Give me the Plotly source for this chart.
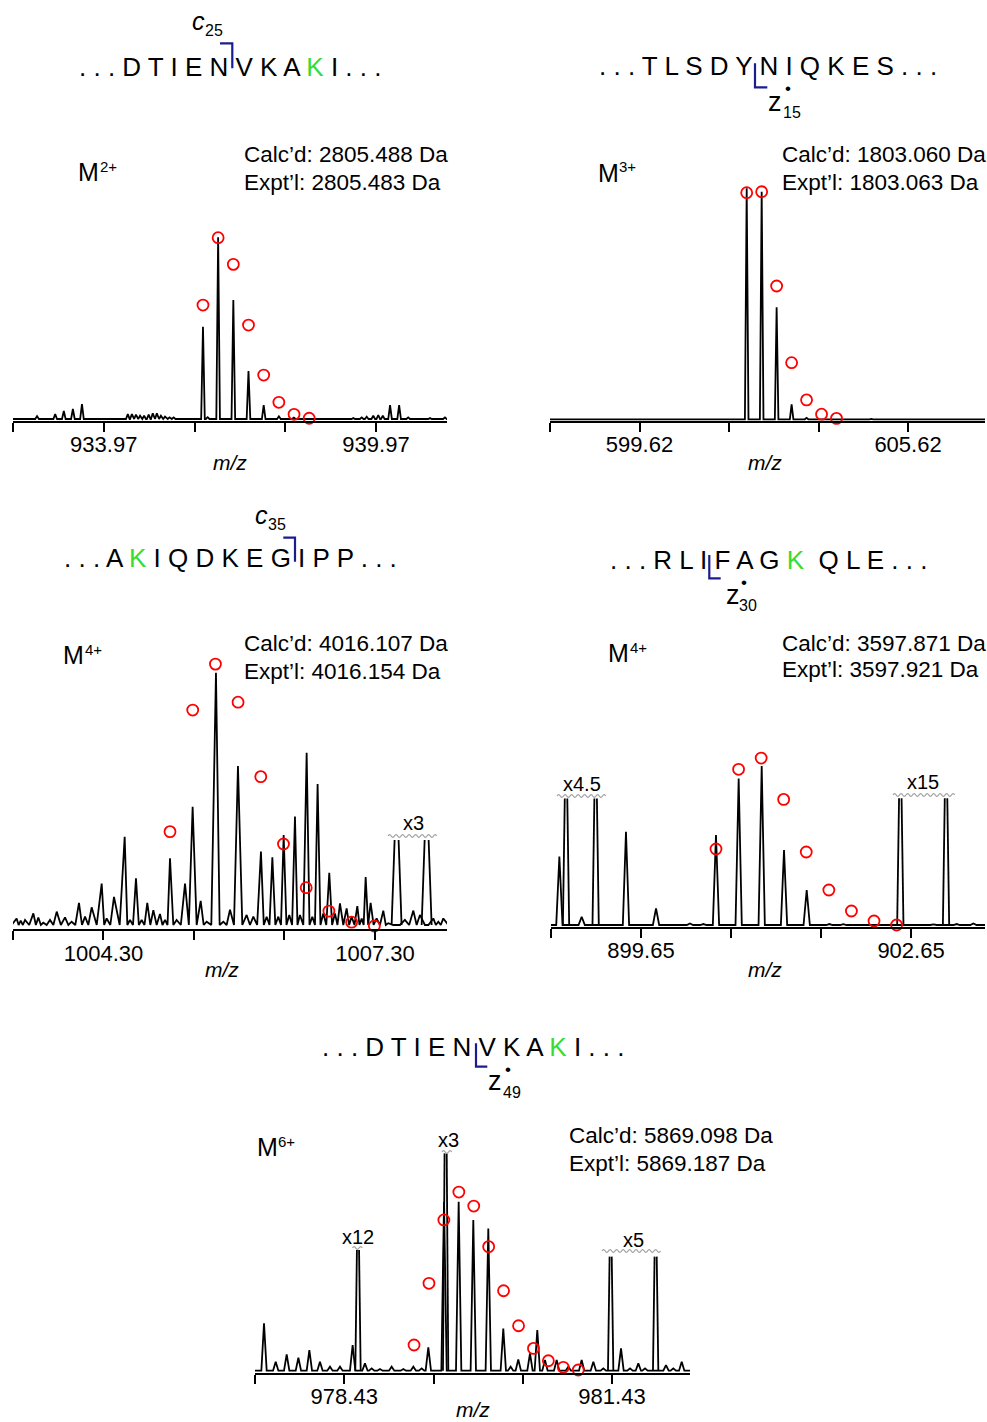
import plotly.graph_objects as go

W, H = 987, 1422
FONT = "Liberation Sans, Arial, Helvetica, sans-serif"
GREEN = "#33dd33"
NAVY = "#1c1c8e"
RED = "#ff0000"

# ------------------------------------------------------------------ data
# Panel 1  (c25, M2+)
p1_seq = ["D", "T", "I", "E", "N", "V", "K", "A", "K", "I"]
p1_green = [8]
p1_frag = ("c", "25")
p1_charge = "2+"
p1_calc = "Calc\u2019d: 2805.488 Da"
p1_expt = "Expt\u2019l: 2805.483 Da"
p1_ticks = [931.97, 933.97, 935.97, 937.97, 939.97]
p1_ticktext = ["", "933.97", "", "", "939.97"]
p1_mz = [932.50, 932.90, 933.09, 933.29, 933.49, 934.50, 934.59, 934.68, 934.77, 934.86,
         934.96, 935.05, 935.14, 935.23, 935.32, 935.42, 935.51, 936.157, 936.26, 936.491,
         936.826, 937.160, 937.495, 937.830, 938.160, 939.470, 939.655, 939.765, 939.910,
         940.020, 940.120, 940.280, 940.480, 940.680, 941.160, 941.490]
p1_int = [1.6, 2.7, 4.4, 5.5, 8.2, 2.7, 2.7, 2.4, 1.8, 1.8,
          2.4, 3.1, 3.1, 1.8, 1.3, 0.9, 0.9, 50.8, 1.0, 100,
          65.5, 26.4, 7.7, 1.5, 0.8, 0.5, 0.9, 1.3, 1.8,
          2.2, 1.8, 7.7, 7.7, 0.9, 0.5, 0.9]
p1_clip_mz = []
p1_clip_int = []
p1_iso_mz = [936.157, 936.491, 936.826, 937.160, 937.495, 937.829, 938.164, 938.498]
p1_iso_int = [62.7, 99.8, 85.1, 51.7, 24.2, 9.2, 2.6, 0.4]
p1_scale_labels = []

# Panel 2  (z15, M3+)
p2_seq = ["T", "L", "S", "D", "Y", "N", "I", "Q", "K", "E", "S"]
p2_green = []
p2_frag = ("z", "15")
p2_charge = "3+"
p2_calc = "Calc\u2019d: 1803.060 Da"
p2_expt = "Expt\u2019l: 1803.063 Da"
p2_ticks = [597.62, 599.62, 601.62, 603.62, 605.62]
p2_ticktext = ["", "599.62", "", "", "605.62"]
p2_mz = [598.90, 600.20, 602.015, 602.350, 602.684, 603.019, 603.353, 604.80, 606.10]
p2_int = [0.3, 0.2, 100, 98.5, 48.5, 6.5, 0.6, 0.2, 0.3]
p2_clip_mz = []
p2_clip_int = []
p2_iso_mz = [602.015, 602.350, 602.684, 603.019, 603.353, 603.688, 604.022]
p2_iso_int = [98.1, 98.5, 57.7, 24.5, 8.4, 2.2, 0.4]
p2_scale_labels = []

# Panel 3  (c35, M4+)
p3_seq = ["A", "K", "I", "Q", "D", "K", "E", "G", "I", "P", "P"]
p3_green = [1]
p3_frag = ("c", "35")
p3_charge = "4+"
p3_calc = "Calc\u2019d: 4016.107 Da"
p3_expt = "Expt\u2019l: 4016.154 Da"
p3_ticks = [1003.30, 1004.30, 1005.30, 1006.30, 1007.30]
p3_ticktext = ["", "1004.30", "", "", "1007.30"]
p3_mz = [1003.340, 1003.385, 1003.433, 1003.525, 1003.580, 1003.635, 1003.709, 1003.783,
         1003.875, 1003.948, 1004.029, 1004.096, 1004.169, 1004.280, 1004.335, 1004.416,
         1004.534, 1004.593, 1004.659, 1004.722, 1004.784, 1004.851, 1004.924, 1004.980,
         1005.035, 1005.108, 1005.201, 1005.285, 1005.374, 1005.440, 1005.543, 1005.624,
         1005.698, 1005.786, 1005.882, 1005.956, 1006.040, 1006.103, 1006.166, 1006.232,
         1006.291, 1006.353, 1006.416, 1006.471, 1006.545, 1006.608, 1006.666, 1006.729,
         1006.795, 1006.858, 1006.913, 1006.987, 1007.042, 1007.105, 1007.153, 1007.197,
         1007.252, 1007.318, 1007.392, 1007.447, 1007.631, 1007.724, 1007.797, 1007.945,
         1008.000, 1008.055]
p3_int = [2.6, 1.7, 2.0, 4.6, 3.0, 0.9, 2.0, 5.3,
          3.0, 1.3, 8.8, 3.3, 7.0, 16.4, 2.6, 11.1,
          35.0, 2.0, 18.5, 2.0, 8.8, 5.9, 4.4, 2.0,
          26.4, 2.0, 16.4, 46.9, 9.6, 1.3, 100, 1.3,
          6.1, 63.0, 4.0, 3.3, 29.1, 3.3, 26.8, 3.3,
          35.7, 4.0, 43.0, 4.0, 68.3, 3.3, 55.9, 4.6,
          20.7, 4.6, 8.6, 6.6, 3.3, 7.5, 2.6, 19.0,
          8.8, 2.6, 5.7, 0.7, 2.0, 5.7, 4.0, 2.6,
          1.3, 2.6]
p3_clip_mz = [1007.539, 1007.871]
p3_clip_int = [33.7, 33.7]
p3_iso_mz = [1005.035, 1005.286, 1005.537, 1005.787, 1006.038, 1006.289, 1006.540,
             1006.791, 1007.042, 1007.293]
p3_iso_int = [37.0, 85.2, 103.4, 88.3, 58.8, 32.1, 14.8, 5.5, 1.1, -0.4]
p3_scale_labels = ["x3"]

# Panel 4  (z30, M4+)
p4_seq = ["R", "L", "I", "F", "A", "G", "K", "\u00a0Q", "L", "E"]
p4_green = [6]
p4_frag = ("z", "30")
p4_charge = "4+"
p4_calc = "Calc\u2019d: 3597.871 Da"
p4_expt = "Expt\u2019l: 3597.921 Da"
p4_ticks = [898.65, 899.65, 900.65, 901.65, 902.65]
p4_ticktext = ["", "899.65", "", "", "902.65"]
p4_mz = [898.743, 898.991, 899.343, 899.483, 899.817, 900.194, 900.343, 900.483, 900.735,
         900.991, 901.239, 901.491, 901.743, 901.898, 902.900, 903.157, 903.343]
p4_int = [43.0, 5.2, 0.4, 58.7, 10.5, 1.0, 0.6, 56.6, 92.2,
          100, 47.2, 22.0, 0.6, 0.5, 0.4, 0.6, 1.0]
p4_clip_mz = [898.817, 899.146, 902.531, 903.039]
p4_clip_int = [79.5, 79.5, 79.7, 79.7]
p4_iso_mz = [900.483, 900.734, 900.985, 901.235, 901.486, 901.737, 901.988, 902.239, 902.490]
p4_iso_int = [47.8, 97.9, 105.0, 79.0, 45.9, 22.0, 8.8, 2.5, 0.0]
p4_scale_labels = ["x4.5", "x15"]

# Panel 5  (z49, M6+)
p5_seq = ["D", "T", "I", "E", "N", "V", "K", "A", "K", "I"]
p5_green = [8]
p5_frag = ("z", "49")
p5_charge = "6+"
p5_calc = "Calc\u2019d: 5869.098 Da"
p5_expt = "Expt\u2019l: 5869.187 Da"
p5_ticks = [977.43, 978.43, 979.43, 980.43, 981.43]
p5_ticktext = ["", "978.43", "", "", "981.43"]
p5_mz = [977.531, 977.662, 977.785, 977.916, 978.039, 978.158, 978.270, 978.382, 978.524,
         978.662, 978.737, 978.830, 978.961, 979.092, 979.204, 979.297, 979.372, 979.548,
         979.712, 979.876, 980.044, 980.212, 980.294, 980.380, 980.511, 980.593, 980.679,
         980.810, 980.941, 981.090, 981.221, 981.333, 981.531, 981.632, 981.725, 981.800,
         982.035, 982.117, 982.211]
p5_int = [28.0, 5.3, 9.7, 7.7, 12.2, 5.3, 2.4, 2.4, 15.2,
          4.3, 1.4, 1.0, 2.4, 1.0, 2.4, 1.4, 13.8, 100,
          100, 89.2, 84.2, 25.0, 2.4, 6.7, 10.3, 24.1, 6.3,
          6.3, 2.4, 6.3, 5.3, 1.4, 13.2, 1.4, 4.3, 1.4,
          3.3, 1.4, 5.3]
p5_clip_mz = [978.584, 979.566, 981.415, 981.919]
p5_clip_int = [71.4, 128.6, 67.5, 67.5]
p5_iso_mz = [979.212, 979.379, 979.546, 979.714, 979.881, 980.048, 980.215, 980.383,
             980.550, 980.717, 980.884, 981.052]
p5_iso_int = [15.2, 51.7, 89.2, 105.7, 97.4, 73.4, 47.3, 26.6, 13.2, 5.9, 2.0, 0.4]
p5_scale_labels = ["x12", "x3", "x5"]

# ------------------------------------------------------------------ layout (pixels)
panels = [
    dict(seq=p1_seq, green=p1_green, frag=p1_frag, charge=p1_charge, calc=p1_calc, expt=p1_expt,
         ticks=p1_ticks, ticktext=p1_ticktext, mz=p1_mz, it=p1_int, cmz=p1_clip_mz, cit=p1_clip_int,
         imz=p1_iso_mz, iit=p1_iso_int, scl=p1_scale_labels,
         x0=13, x1=447, axis=421, base=419, full=237.3, top=215, xr=[931.97, 941.535], w=0.04,
         seq_xy=(230.5, 67), frag_xy=(190, 21), sub_xy=(203, 31),
         bracket=[(220, 43.3), (232.3, 43.3), (232.3, 68.3)],
         dot=None, M_xy=(76, 172), sup_xy=(97.5, 166), calc_xy=(242, 155), expt_xy=(242, 182),
         mz_xy=(230, 462), scl_pos=[]),
    dict(seq=p2_seq, green=p2_green, frag=p2_frag, charge=p2_charge, calc=p2_calc, expt=p2_expt,
         ticks=p2_ticks, ticktext=p2_ticktext, mz=p2_mz, it=p2_int, cmz=p2_clip_mz, cit=p2_clip_int,
         imz=p2_iso_mz, iit=p2_iso_int, scl=p2_scale_labels,
         x0=550, x1=985, axis=421, base=419.3, full=188.3, top=170, xr=[597.62, 607.34], w=0.04,
         seq_xy=(767.5, 66), frag_xy=(766, 102), sub_xy=(781, 113),
         bracket=[(755, 63.3), (755, 87.3), (767.3, 87.3)],
         dot=(787.5, 89), M_xy=(595.5, 173), sup_xy=(617, 167), calc_xy=(780, 155), expt_xy=(780, 182),
         mz_xy=(765, 462), scl_pos=[]),
    dict(seq=p3_seq, green=p3_green, frag=p3_frag, charge=p3_charge, calc=p3_calc, expt=p3_expt,
         ticks=p3_ticks, ticktext=p3_ticktext, mz=p3_mz, it=p3_int, cmz=p3_clip_mz, cit=p3_clip_int,
         imz=p3_iso_mz, iit=p3_iso_int, scl=p3_scale_labels,
         x0=13, x1=447, axis=929.3, base=925, full=672.7, top=650, xr=[1003.30, 1008.096], w=0.055,
         seq_xy=(230.5, 558), frag_xy=(253, 515), sub_xy=(266, 524),
         bracket=[(283.3, 537.7), (295, 537.7), (295, 561.7)],
         dot=None, M_xy=(60.5, 655), sup_xy=(82.5, 649.5), calc_xy=(242, 643), expt_xy=(242, 671),
         mz_xy=(222, 969), scl_pos=[(413, 823, 388, 438, 836)]),
    dict(seq=p4_seq, green=p4_green, frag=p4_frag, charge=p4_charge, calc=p4_calc, expt=p4_expt,
         ticks=p4_ticks, ticktext=p4_ticktext, mz=p4_mz, it=p4_int, cmz=p4_clip_mz, cit=p4_clip_int,
         imz=p4_iso_mz, iit=p4_iso_int, scl=p4_scale_labels,
         x0=551, x1=985, axis=926.7, base=925, full=766, top=740, xr=[898.65, 903.472], w=0.035,
         seq_xy=(768, 560), frag_xy=(724, 595), sub_xy=(737, 605),
         bracket=[(709.3, 555), (709.3, 578.3), (720.7, 578.3)],
         dot=(744, 582), M_xy=(605.5, 653), sup_xy=(627.5, 647.5), calc_xy=(780, 643), expt_xy=(780, 670),
         mz_xy=(765, 969), scl_pos=[(582, 784, 557, 606, 796), (923, 782, 893, 955, 795)]),
    dict(seq=p5_seq, green=p5_green, frag=p5_frag, charge=p5_charge, calc=p5_calc, expt=p5_expt,
         ticks=p5_ticks, ticktext=p5_ticktext, mz=p5_mz, it=p5_int, cmz=p5_clip_mz, cit=p5_clip_int,
         imz=p5_iso_mz, iit=p5_iso_int, scl=p5_scale_labels,
         x0=255, x1=690, axis=1372.7, base=1370.7, full=1201.7, top=1130, xr=[977.43, 982.304], w=0.03,
         seq_xy=(473.5, 1047), frag_xy=(486, 1081), sub_xy=(501, 1092),
         bracket=[(476, 1043.3), (476, 1066.7), (487.3, 1066.7)],
         dot=(508, 1069), M_xy=(254.5, 1147), sup_xy=(276, 1141.5), calc_xy=(567, 1135), expt_xy=(567, 1163),
         mz_xy=(473, 1409),
         scl_pos=[(358, 1237, 352.5, 364, 1248), (448, 1140, 442, 453.5, 1152), (633, 1240, 602, 663, 1251)]),
]


def pxx(x):
    return x / W


def pxy(y):
    return 1 - y / H


def spectrum_line(mz, it, w, xr):
    pts = sorted(zip(mz, it))
    xs, ys = [xr[0]], [0]
    n = len(pts)
    for i, (m, h) in enumerate(pts):
        left = m - w
        right = m + w
        if i > 0:
            left = max(left, (m + pts[i - 1][0]) / 2)
        if i < n - 1:
            right = min(right, (m + pts[i + 1][0]) / 2)
        xs += [left, m, right]
        ys += [0, h, 0]
    xs.append(xr[1])
    ys.append(0)
    return xs, ys


def clipped_lines(cmz, cit, w):
    xs, ys = [], []
    g = w * 0.4
    for m, h in zip(cmz, cit):
        xs += [m - w, m - g, None, m + g, m + w, None]
        ys += [0, h, None, h, 0, None]
    return xs, ys


def wave_path(x0, x1, y, period=6.5, amp=1.4):
    d = "M %.5f %.5f" % (pxx(x0), pxy(y))
    x = x0
    k = 0
    half = period / 2
    while x + half <= x1 + 0.01:
        cx = x + half / 2
        cy = y - 2 * amp if k % 2 == 0 else y + 2 * amp
        d += " Q %.5f %.5f %.5f %.5f" % (pxx(cx), pxy(cy), pxx(x + half), pxy(y))
        x += half
        k += 1
    return d


fig = go.Figure()
annotations = []
shapes = []
layout = dict(width=W, height=H, margin=dict(l=0, r=0, t=0, b=0),
              paper_bgcolor="white", plot_bgcolor="white", showlegend=False,
              font=dict(family=FONT, color="black"))


def ann(text, x, y, size, xanchor="center", yanchor="middle", color="black"):
    annotations.append(dict(text=text, x=pxx(x), y=pxy(y), xref="paper", yref="paper",
                            showarrow=False, xanchor=xanchor, yanchor=yanchor,
                            font=dict(size=size, color=color, family=FONT)))


for i, p in enumerate(panels):
    k = "" if i == 0 else str(i + 1)
    scale = (p["base"] - p["full"]) / 100.0
    ymin = -(p["axis"] - p["base"]) / scale
    ymax = (p["base"] - p["top"]) / scale
    layout["xaxis" + k] = dict(domain=[pxx(p["x0"]), pxx(p["x1"])], anchor="y" + k,
                               range=p["xr"], showline=True, linecolor="black", linewidth=1.8,
                               ticks="outside", ticklen=9, tickwidth=1.6, tickcolor="black",
                               tickvals=p["ticks"], ticktext=p["ticktext"],
                               ticklabelstandoff=-6,
                               tickfont=dict(size=22, family=FONT, color="black"),
                               showgrid=False, zeroline=False, fixedrange=True)
    layout["yaxis" + k] = dict(domain=[pxy(p["axis"]), pxy(p["top"])], anchor="x" + k,
                               range=[ymin, ymax], visible=False, showgrid=False,
                               zeroline=False, fixedrange=True)
    sx, sy = spectrum_line(p["mz"], p["it"], p["w"], p["xr"])
    fig.add_trace(go.Scatter(x=sx, y=sy, mode="lines", line=dict(color="black", width=1.8),
                             xaxis="x" + k, yaxis="y" + k, hoverinfo="skip"))
    if p["cmz"]:
        cx, cy = clipped_lines(p["cmz"], p["cit"], p["w"])
        fig.add_trace(go.Scatter(x=cx, y=cy, mode="lines", line=dict(color="black", width=1.8),
                                 xaxis="x" + k, yaxis="y" + k, hoverinfo="skip",
                                 connectgaps=False))
    fig.add_trace(go.Scatter(x=p["imz"], y=p["iit"], mode="markers", cliponaxis=False,
                             marker=dict(symbol="circle-open", size=11, color=RED,
                                         line=dict(width=1.8, color=RED)),
                             xaxis="x" + k, yaxis="y" + k))

    # sequence text
    letters = []
    for j, L in enumerate(p["seq"]):
        if j in p["green"]:
            letters.append("<span style='color:%s'>%s</span>" % (GREEN, L))
        else:
            letters.append(L)
    seq_text = ". . . " + " ".join(letters) + " . . ."
    ann(seq_text, p["seq_xy"][0], p["seq_xy"][1], 26)

    # fragment label
    f, n = p["frag"]
    if f == "c":
        ann("<i>c</i>", p["frag_xy"][0], p["frag_xy"][1], 25, xanchor="left")
    else:
        ann("z", p["frag_xy"][0], p["frag_xy"][1], 27, xanchor="left")
    ann(n, p["sub_xy"][0], p["sub_xy"][1], 16, xanchor="left")
    if p["dot"]:
        ann("\u2022", p["dot"][0], p["dot"][1], 17)

    # bracket
    b = p["bracket"]
    path = "M %.5f %.5f L %.5f %.5f L %.5f %.5f" % (pxx(b[0][0]), pxy(b[0][1]), pxx(b[1][0]),
                                                    pxy(b[1][1]), pxx(b[2][0]), pxy(b[2][1]))
    shapes.append(dict(type="path", path=path, xref="paper", yref="paper",
                       line=dict(color=NAVY, width=2.2)))

    # charge state, masses, axis title
    ann("M", p["M_xy"][0], p["M_xy"][1], 25, xanchor="left")
    ann(p["charge"], p["sup_xy"][0], p["sup_xy"][1], 15, xanchor="left")
    ann(p["calc"], p["calc_xy"][0], p["calc_xy"][1], 22.5, xanchor="left")
    ann(p["expt"], p["expt_xy"][0], p["expt_xy"][1], 22.5, xanchor="left")
    ann("<i>m/z</i>", p["mz_xy"][0], p["mz_xy"][1], 21)

    # magnification labels
    for lab, pos in zip(p["scl"], p["scl_pos"]):
        lx, ly, wx0, wx1, wy = pos
        ann(lab, lx, ly, 20)
        shapes.append(dict(type="path", path=wave_path(wx0, wx1, wy), xref="paper", yref="paper",
                           line=dict(color="#a0a0a0", width=1.2)))

layout["annotations"] = annotations
layout["shapes"] = shapes
fig.update_layout(**layout)
fig.write_html("out.html")
